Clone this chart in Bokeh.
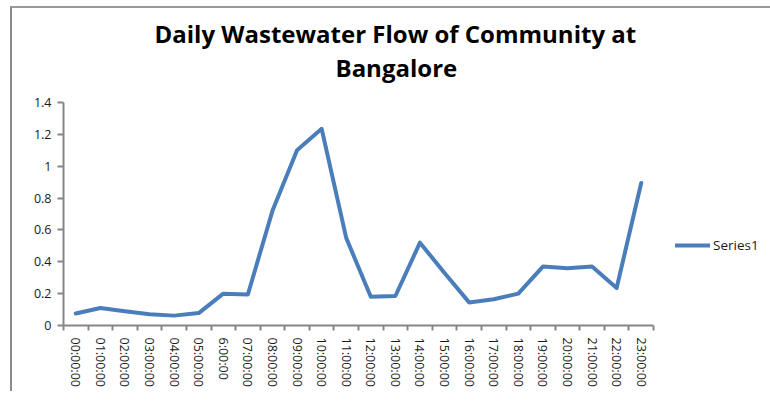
from bokeh.plotting import figure
from bokeh.models import (Range1d, FixedTicker, Title, Legend, LegendItem,
                          ColumnDataSource)
from bokeh.embed import file_html
from bokeh.resources import INLINE

# ---- data ----
times = ["00:00:00", "01:00:00", "02:00:00", "03:00:00", "04:00:00", "05:00:00",
         "6:00:00", "07:00:00", "08:00:00", "09:00:00", "10:00:00", "11:00:00",
         "12:00:00", "13:00:00", "14:00:00", "15:00:00", "16:00:00", "17:00:00",
         "18:00:00", "19:00:00", "20:00:00", "21:00:00", "22:00:00", "23:00:00"]
flow = [0.075, 0.11, 0.09, 0.07, 0.062, 0.078, 0.20, 0.195, 0.72, 1.10, 1.235, 0.55,
        0.18, 0.185, 0.52, 0.33, 0.145, 0.165, 0.20, 0.37, 0.36, 0.37, 0.235, 0.895]
y_ticks = [0, 0.2, 0.4, 0.6, 0.8, 1.0, 1.2, 1.4]
y_labels = ["0", "0.2", "0.4", "0.6", "0.8", "1", "1.2", "1.4"]
title_line1 = "Daily Wastewater Flow of Community at"
title_line2 = "Bangalore"
series_name = "Series1"

n = len(times)
centers = [i + 0.5 for i in range(n)]
bounds = [float(i) for i in range(n + 1)]

src = ColumnDataSource(dict(x=centers, y=flow, t=times))

FONT = "Open Sans"
AXIS_GRAY = "#868686"
TXT = "#1a1a1a"

p = figure(frame_width=590, frame_height=223, output_backend="svg",
           toolbar_location=None,
           x_range=Range1d(0, n), y_range=Range1d(0, 1.4),
           min_border_left=51, min_border_right=111, min_border_top=94,
           min_border_bottom=66)
p.styles = {"margin-left": "10px", "margin-top": "6px",
            "border-left": "2px solid #8c8c8c", "border-top": "2px solid #999999"}
p.outline_line_color = None
p.xgrid.visible = False
p.ygrid.visible = False
p.background_fill_color = "white"
p.border_fill_color = "white"

t2 = Title(text=title_line2, align="left", offset=272, text_font=FONT,
           text_font_size="24px", text_font_style="bold", text_color="#000000",
           standoff=37.5)
t1 = Title(text=title_line1, align="left", offset=91, text_font=FONT,
           text_font_size="24px", text_font_style="bold", text_color="#000000",
           standoff=-40.5)
p.add_layout(t2, "above")
p.add_layout(t1, "above")

# x axis
xa = p.xaxis[0]
xa.ticker = FixedTicker(ticks=centers, minor_ticks=bounds)
xa.major_label_overrides = {c: t for c, t in zip(centers, times)}
xa.major_label_orientation = "vertical"
xa.major_tick_out = 0
xa.major_tick_in = 0
xa.minor_tick_out = 5
xa.minor_tick_in = 0
xa.minor_tick_line_color = AXIS_GRAY
xa.minor_tick_line_width = 2
xa.axis_line_color = AXIS_GRAY
xa.axis_line_width = 2
xa.major_label_standoff = 7
xa.major_label_text_font = FONT
xa.major_label_text_font_size = "12.5px"
xa.major_label_text_color = TXT

# y axis
ya = p.yaxis[0]
ya.ticker = FixedTicker(ticks=y_ticks, minor_ticks=[])
ya.major_label_overrides = {v: s for v, s in zip(y_ticks, y_labels)}
ya.major_tick_out = 6
ya.major_tick_in = 0
ya.major_tick_line_color = AXIS_GRAY
ya.major_tick_line_width = 2
ya.axis_line_color = AXIS_GRAY
ya.axis_line_width = 2
ya.major_label_standoff = 6
ya.major_label_text_font = FONT
ya.major_label_text_font_size = "12.5px"
ya.major_label_text_color = TXT

r = p.line(x="x", y="y", source=src, line_color="#4A7EBB", line_width=4,
           line_join="round", line_cap="round")

legend = Legend(items=[LegendItem(label=series_name, renderers=[r])],
                location=(22, 71), border_line_color=None,
                background_fill_alpha=0, padding=0, margin=0, spacing=0,
                glyph_width=35, glyph_height=14, label_standoff=3,
                label_text_font=FONT, label_text_font_size="13.5px",
                label_text_color=TXT, label_text_baseline="middle")
p.add_layout(legend, "right")

open("out.html", "w").write(file_html(p, INLINE))
